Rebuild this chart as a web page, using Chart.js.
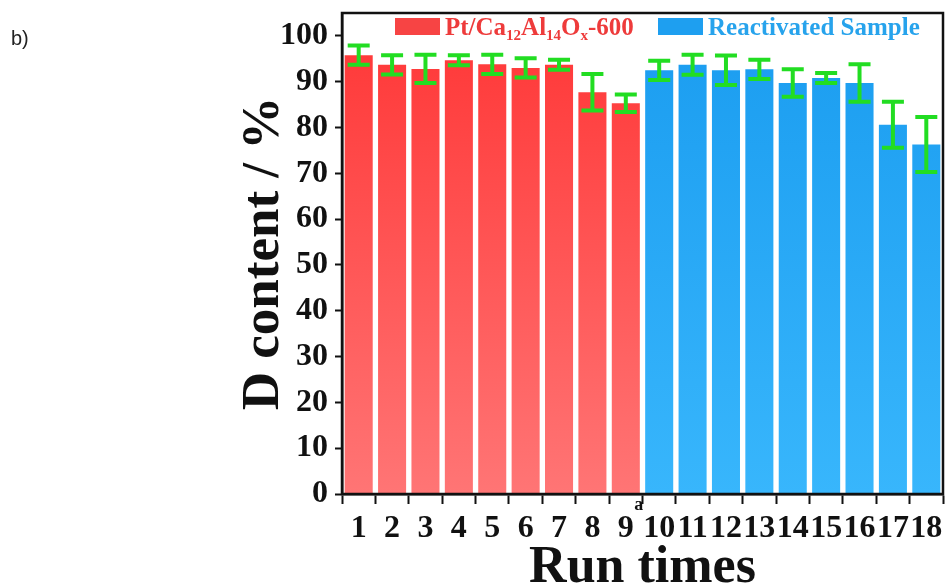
<!DOCTYPE html>
<html>
<head>
<meta charset="utf-8">
<script src="https://cdn.jsdelivr.net/npm/chart.js@4.4.1/dist/chart.umd.min.js"></script>
<style>
  body { margin: 0; background: #fff; }
  #wrap { position: relative; width: 945px; height: 586px; }
  #panel { position: absolute; left: 11px; top: 28px; font: 20px "Liberation Sans", Arial, sans-serif; line-height: 1; color: #222; }
</style>
</head>
<body>
<div id="wrap">
  <canvas id="myChart"></canvas>
  <div id="panel">b)</div>
</div>
<script>
  // data
  var runLabels = ["1", "2", "3", "4", "5", "6", "7", "8", "9", "10", "11", "12", "13", "14", "15", "16", "17", "18"];
  var ptValues = [95.8, 93.7, 92.8, 94.7, 93.8, 93.0, 93.7, 87.7, 85.3];
  var ptErrors = [2.1, 2.1, 3.1, 1.1, 2.1, 2.1, 1.1, 4.0, 1.9];
  var reactValues = [92.5, 93.7, 92.5, 92.7, 89.7, 90.8, 89.7, 80.6, 76.3];
  var reactErrors = [2.1, 2.2, 3.2, 2.1, 3.0, 1.1, 4.1, 5.0, 6.0];
  var yTicks = [0, 10, 20, 30, 40, 50, 60, 70, 80, 90, 100];

  var serif = '"Liberation Serif", "Times New Roman", serif';
  var blanks = function (arr) { return arr.map(function () { return null; }); };

  var ptData = ptValues.concat(blanks(reactValues));
  var reactData = blanks(ptValues).concat(reactValues);

  function colGradient(top, bottom) {
    return function (c) {
      var chart = c.chart;
      var y = chart.scales.y;
      if (!chart.chartArea || !y) return top;
      var g = chart.ctx.createLinearGradient(0, y.getPixelForValue(100), 0, y.getPixelForValue(0));
      g.addColorStop(0, top);
      g.addColorStop(1, bottom);
      return g;
    };
  }

  var errorBars = {
    id: "errorBars",
    afterDatasetsDraw: function (chart) {
      var ctx = chart.ctx, y = chart.scales.y;
      chart.data.datasets.forEach(function (ds, i) {
        chart.getDatasetMeta(i).data.forEach(function (bar, j) {
          var v = ds.data[j];
          if (v == null) return;
          var e = ds.errors[j];
          var top = y.getPixelForValue(v + e), bot = y.getPixelForValue(v - e);
          ctx.save();
          ctx.strokeStyle = "#22dd22";
          ctx.lineWidth = 4;
          ctx.beginPath();
          ctx.moveTo(bar.x, top); ctx.lineTo(bar.x, bot);
          ctx.moveTo(bar.x - 11, top); ctx.lineTo(bar.x + 11, top);
          ctx.moveTo(bar.x - 11, bot); ctx.lineTo(bar.x + 11, bot);
          ctx.stroke();
          ctx.restore();
        });
      });
    }
  };

  // frame, legend with subscripts, and the "a" mark after run 9
  var decor = {
    id: "decor",
    afterDraw: function (chart) {
      var ctx = chart.ctx, a = chart.chartArea;
      ctx.save();
      ctx.strokeStyle = "#111";
      ctx.lineWidth = 2.5;
      ctx.strokeRect(a.left, a.top, a.right - a.left, a.bottom - a.top);

      function legendEntry(x, color, boxColor, parts) {
        ctx.fillStyle = boxColor;
        ctx.fillRect(x, a.top + 5, 45, 17);
        var tx = x + 50, base = a.top + 22;
        ctx.fillStyle = color;
        ctx.textBaseline = "alphabetic";
        parts.forEach(function (p) {
          ctx.font = "bold " + (p[1] ? 15 : 25) + "px " + serif;
          ctx.fillText(p[0], tx, base + (p[1] ? 5 : 0));
          tx += ctx.measureText(p[0]).width;
        });
      }
      legendEntry(a.left + 53, "#ee3b3b", "#f74444",
        [["Pt/Ca", 0], ["12", 1], ["Al", 0], ["14", 1], ["O", 0], ["x", 1], ["-600", 0]]);
      legendEntry(a.left + 316, "#27a3ec", "#1e9ff0", [["Reactivated Sample", 0]]);

      var x9 = chart.scales.x.getPixelForValue(8);
      ctx.fillStyle = "#111";
      ctx.font = "bold 18px " + serif;
      ctx.textAlign = "center";
      ctx.fillText("a", x9 + 13, a.bottom + 16);
      ctx.restore();
    }
  };

  new Chart("myChart", {
    type: "bar",
    data: {
      labels: runLabels,
      datasets: [
        {
          label: "Pt/Ca12Al14Ox-600",
          data: ptData,
          errors: ptErrors.concat(blanks(reactErrors)),
          backgroundColor: colGradient("#ff3838", "#ff7575")
        },
        {
          label: "Reactivated Sample",
          data: reactData,
          errors: blanks(ptErrors).concat(reactErrors),
          backgroundColor: colGradient("#1b9df0", "#38b6fc")
        }
      ]
    },
    options: {
      responsive: true,
      maintainAspectRatio: false,
      animation: false,
      datasets: { bar: { categoryPercentage: 1, barPercentage: 0.84 } },
      layout: { padding: { left: 230, top: 13, right: 2, bottom: 0 } },
      plugins: { legend: { display: false }, tooltip: { enabled: false } },
      scales: {
        x: {
          stacked: true,
          afterFit: function (s) { s.height = 92; s.paddingLeft = 0; s.paddingRight = 0; },
          grid: { drawOnChartArea: false, drawTicks: true, tickLength: 10, tickWidth: 2, tickColor: "#111" },
          border: { display: true, color: "#111", width: 2.5 },
          ticks: { color: "#111", padding: 6, autoSkip: false, maxRotation: 0,
                   font: { family: serif, size: 32, weight: "bold" } },
          title: { display: true, text: "Run times", color: "#111", padding: { top: 0, bottom: 0 },
                   font: { family: serif, size: 52, weight: "bold", lineHeight: 0.66 } }
        },
        y: {
          min: 0,
          max: 105,
          afterBuildTicks: function (s) { s.ticks = yTicks.map(function (v) { return { value: v }; }); },
          afterFit: function (s) { s.width = 112; s.paddingTop = 0; s.paddingBottom = 0; },
          grid: { drawOnChartArea: false, drawTicks: true, tickLength: 7, tickWidth: 2, tickColor: "#111" },
          border: { display: true, color: "#111", width: 2.5 },
          ticks: { color: "#111", padding: 7, font: { family: serif, size: 32, weight: "bold" } },
          title: { display: true, text: "D content / %", color: "#111", padding: { top: 8, bottom: 0 },
                   font: { family: serif, size: 53, weight: "bold", lineHeight: 1 } }
        }
      }
    },
    plugins: [errorBars, decor]
  });
</script>
</body>
</html>
